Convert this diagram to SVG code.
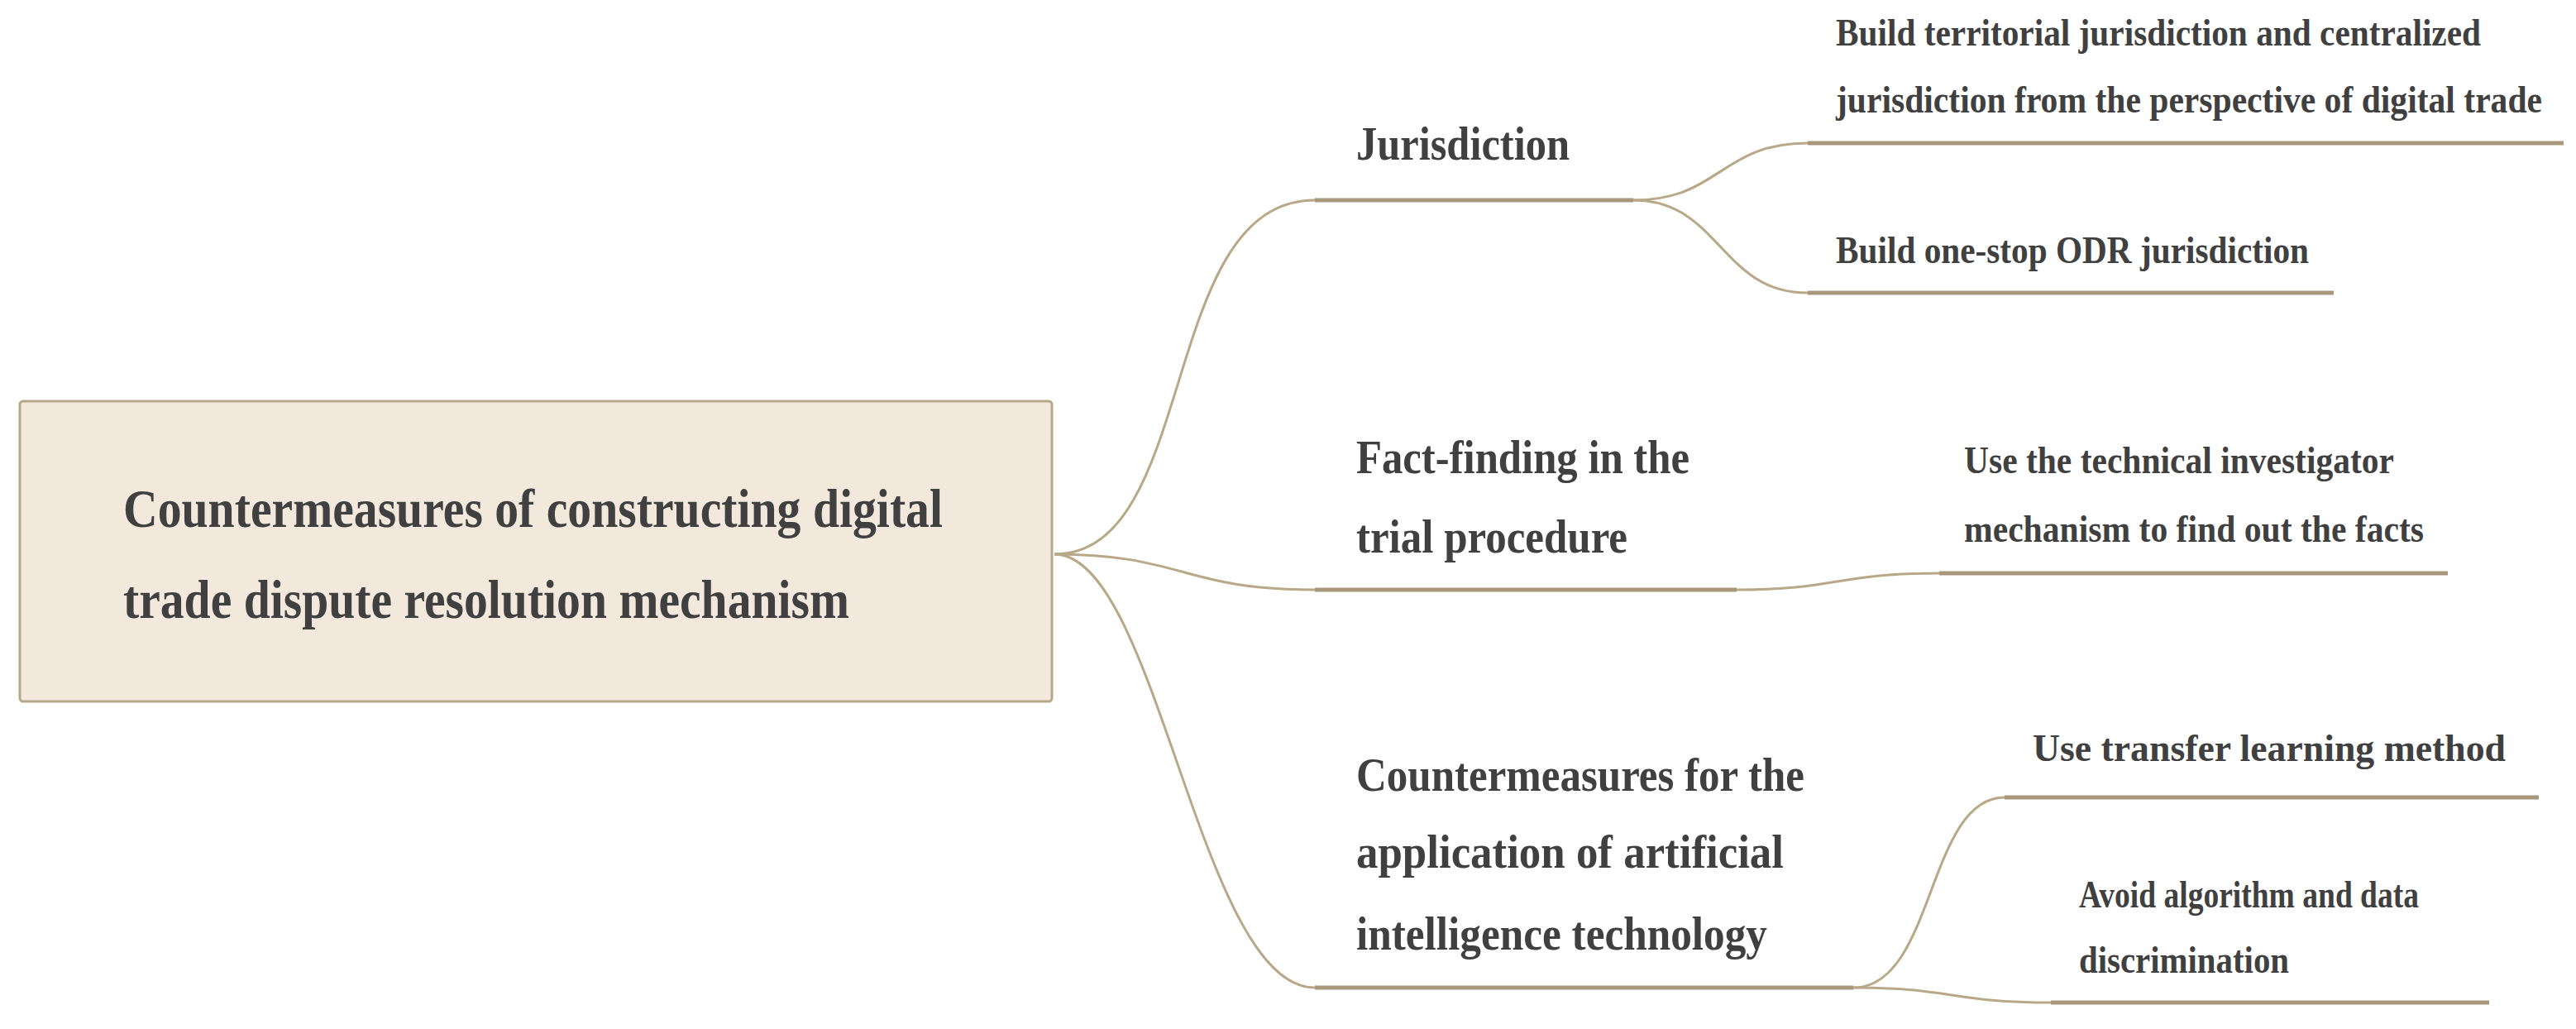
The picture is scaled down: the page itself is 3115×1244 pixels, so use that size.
<svg xmlns="http://www.w3.org/2000/svg" width="3115" height="1244" viewBox="0 0 3115 1244">
<style>
text{font-family:"Liberation Serif","Times New Roman",serif;font-weight:bold;fill:#404040}
.r{font-size:66px}.b{font-size:58px}.c{font-size:46px}
.l{fill:none;stroke:#b8a888;stroke-width:3}
.u{stroke:#a8977a;stroke-width:5}
</style>
<rect width="3115" height="1244" fill="#fff"/>
<g id="connectors">
<path class="l" d="M1275,670 C1450,670 1400,242 1590,242"/>
<path class="l" d="M1275,670 C1430,670 1430,713 1590,713"/>
<path class="l" d="M1275,670 C1400,670 1450,1194 1590,1194"/>
<path class="l" d="M1975,242 C2080,242 2080,173 2186,173"/>
<path class="l" d="M1975,242 C2080,242 2080,354 2186,354"/>
<path class="l" d="M2100,713 C2220,713 2220,693 2345,693"/>
<path class="l" d="M2241,1194 C2340,1194 2330,964 2424,964"/>
<path class="l" d="M2241,1194 C2360,1194 2360,1212 2480,1212"/>
</g>
<g id="root">
<rect x="24" y="485" width="1248" height="363" rx="4" fill="#f2e9dc" stroke="#b7a88a" stroke-width="3"/>
<text class="r" x="149" y="637" textLength="991" lengthAdjust="spacingAndGlyphs">Countermeasures of constructing digital</text>
<text class="r" x="149" y="747" textLength="878" lengthAdjust="spacingAndGlyphs">trade dispute resolution mechanism</text>
</g>
<g id="b1">
<line class="u" x1="1590" y1="242" x2="1975" y2="242"/>
<text class="b" x="1640" y="193" textLength="258" lengthAdjust="spacingAndGlyphs">Jurisdiction</text>
</g>
<g id="b1c1">
<line class="u" x1="2186" y1="173" x2="3100" y2="173"/>
<text class="c" x="2220" y="55" textLength="780" lengthAdjust="spacingAndGlyphs">Build territorial jurisdiction and centralized</text>
<text class="c" x="2220" y="136" textLength="854" lengthAdjust="spacingAndGlyphs">jurisdiction from the perspective of digital trade</text>
</g>
<g id="b1c2">
<line class="u" x1="2186" y1="354" x2="2822" y2="354"/>
<text class="c" x="2220" y="318" textLength="572" lengthAdjust="spacingAndGlyphs">Build one-stop ODR jurisdiction</text>
</g>
<g id="b2">
<line class="u" x1="1590" y1="713" x2="2100" y2="713"/>
<text class="b" x="1640" y="572" textLength="403" lengthAdjust="spacingAndGlyphs">Fact-finding in the</text>
<text class="b" x="1640" y="668" textLength="328" lengthAdjust="spacingAndGlyphs">trial procedure</text>
</g>
<g id="b2c1">
<line class="u" x1="2345" y1="693" x2="2960" y2="693"/>
<text class="c" x="2375" y="572" textLength="520" lengthAdjust="spacingAndGlyphs">Use the technical investigator</text>
<text class="c" x="2375" y="655" textLength="556" lengthAdjust="spacingAndGlyphs">mechanism to find out the facts</text>
</g>
<g id="b3">
<line class="u" x1="1590" y1="1194" x2="2241" y2="1194"/>
<text class="b" x="1640" y="956" textLength="542" lengthAdjust="spacingAndGlyphs">Countermeasures for the</text>
<text class="b" x="1640" y="1049" textLength="517" lengthAdjust="spacingAndGlyphs">application of artificial</text>
<text class="b" x="1640" y="1148" textLength="497" lengthAdjust="spacingAndGlyphs">intelligence technology</text>
</g>
<g id="b3c1">
<line class="u" x1="2424" y1="964" x2="3070" y2="964"/>
<text class="c" x="2458" y="920" textLength="572" lengthAdjust="spacingAndGlyphs">Use transfer learning method</text>
</g>
<g id="b3c2">
<line class="u" x1="2480" y1="1212" x2="3010" y2="1212"/>
<text class="c" x="2514" y="1097" textLength="411" lengthAdjust="spacingAndGlyphs">Avoid algorithm and data</text>
<text class="c" x="2514" y="1176" textLength="254" lengthAdjust="spacingAndGlyphs">discrimination</text>
</g>
</svg>
